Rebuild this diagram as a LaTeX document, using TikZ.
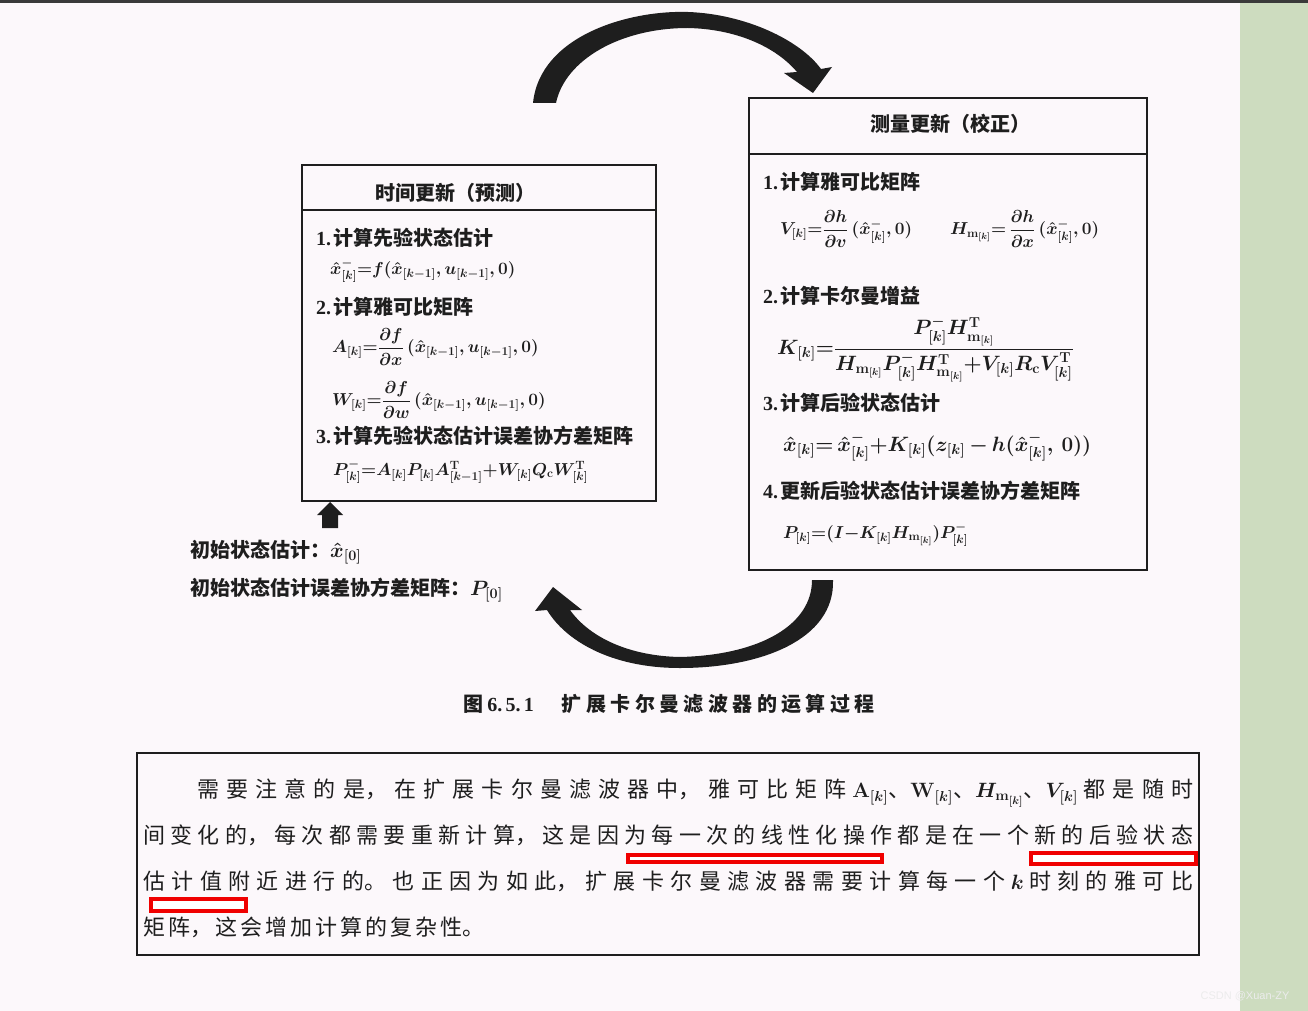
\documentclass[tikz,border=0pt]{standalone}
\usepackage{amsmath,bm}
\usepackage[no-math]{fontspec}
\setmainfont{Noto Sans CJK SC}
\newfontfamily\numfont{Liberation Serif}
\newfontfamily\capfont[LetterSpace=22]{Noto Sans CJK SC}
\newfontfamily\markfont{Liberation Sans}

\definecolor{pagec}{HTML}{FCF8FB}
\definecolor{greenc}{HTML}{CDDCBF}
\definecolor{barc}{HTML}{3A3A3A}
\definecolor{inkc}{HTML}{1E1E1E}
\definecolor{redc}{HTML}{F00000}

\newcommand\itemno[1]{{\numfont\bfseries #1.}\hspace{2pt}}

\tikzset{
  boxline/.style={draw=inkc, line width=1.5pt},
  head/.style={font=\fontsize{20}{24}\selectfont\bfseries, text=inkc, inner sep=0pt},
  step item/.style={anchor=west, font=\fontsize{20}{24}\selectfont\bfseries, text=inkc, inner sep=0pt},
  formula/.style={anchor=west, font=\fontsize{18}{22}\selectfont\boldmath, text=inkc, inner sep=0pt},
  rformula/.style={formula, font=\fontsize{19.5}{23}\selectfont\boldmath},
  blockarrow/.style={fill=inkc, draw=none},
  redbox/.style={draw=redc, line width=3.5pt, fill=white}
}

\begin{document}
\begin{tikzpicture}[x=1pt,y=-1pt]
  \useasboundingbox (0,0) rectangle (1308,1011);
  % page
  \fill[pagec] (0,0) rectangle (1308,1011);
  \fill[greenc] (1240,0) rectangle (1308,1011);
  \fill[barc] (0,0) rectangle (1308,3.5);

  % time update box
  \draw[boxline] (302,165) rectangle (656,501);
  \draw[boxline] (302,210) -- (656,210);
  \node[head] (hdtime) at (455,193) {时间更新（预测）};
  \node[step item] (t1) at (316,238) {\itemno{1}计算先验状态估计};
  \node[formula] (fx) at (330,271) {$\hat{x}^{-}_{[k]}{=}f(\hat{x}_{[k-1]},u_{[k-1]},0)$};
  \node[step item] (t2) at (316,307) {\itemno{2}计算雅可比矩阵};
  \node[formula] (fa) at (332,347) {$A_{[k]}{=}\dfrac{\partial f}{\partial x}\,(\hat{x}_{[k-1]},u_{[k-1]},0)$};
  \node[formula] (fw) at (332,400) {$W_{[k]}{=}\dfrac{\partial f}{\partial w}\,(\hat{x}_{[k-1]},u_{[k-1]},0)$};
  \node[step item] (t3) at (316,436) {\itemno{3}计算先验状态估计误差协方差矩阵};
  \node[formula] (fp) at (333,472) {$P^{-}_{[k]}{=}A_{[k]}P_{[k]}A^{\mathrm{T}}_{[k-1]}{+}W_{[k]}Q_{\mathrm{c}}W^{\mathrm{T}}_{[k]}$};

  % measurement update box
  \draw[boxline] (749,98) rectangle (1147,570);
  \draw[boxline] (749,154) -- (1147,154);
  \node[head] (hdmeas) at (950,124) {测量更新（校正）};
  \node[step item] (m1) at (763,182) {\itemno{1}计算雅可比矩阵};
  \node[formula, font=\fontsize{18.5}{22}\selectfont\boldmath] (fv) at (780,229) {$V_{[k]}{=}\dfrac{\partial h}{\partial v}\,(\hat{x}^{-}_{[k]},0)$};
  \node[formula, font=\fontsize{18.5}{22}\selectfont\boldmath] (fh) at (950,229) {$H_{\mathrm{m}_{[k]}}{=}\,\dfrac{\partial h}{\partial x}\,(\hat{x}^{-}_{[k]},0)$};
  \node[step item] (m2) at (763,296) {\itemno{2}计算卡尔曼增益};
  \node[rformula] (fk) at (777,349) {$K_{[k]}{=}\dfrac{P^{-}_{[k]}H^{\mathrm{T}}_{\mathrm{m}_{[k]}}}{H_{\mathrm{m}_{[k]}}P^{-}_{[k]}H^{\mathrm{T}}_{\mathrm{m}_{[k]}}{+}V_{[k]}R_{\mathrm{c}}V^{\mathrm{T}}_{[k]}}$};
  \node[step item] (m3) at (763,403) {\itemno{3}计算后验状态估计};
  \node[rformula] (fxk) at (783,447) {$\hat{x}_{[k]}{=}\,\hat{x}^{-}_{[k]}{+}K_{[k]}(z_{[k]}\,{-}\,h(\hat{x}^{-}_{[k]},\,0))$};
  \node[step item] (m4) at (763,491) {\itemno{4}更新后验状态估计误差协方差矩阵};
  \node[formula] (fpk) at (783,535) {$P_{[k]}{=}(I{-}K_{[k]}H_{\mathrm{m}_{[k]}})P^{-}_{[k]}$};

  % initial values
  \fill[blockarrow] (322,528) -- (322,515) -- (317,515) -- (330,502)
    -- (343,515) -- (338,515) -- (338,528) -- cycle;
  \node[step item, font=\fontsize{20}{24}\selectfont\bfseries\boldmath] (init1) at (190,552) {初始状态估计：$\hat{x}_{[0]}$};
  \node[step item, font=\fontsize{20}{24}\selectfont\bfseries\boldmath] (init2) at (190,590) {初始状态估计误差协方差矩阵：$P_{[0]}$};

  % loop arrows
  \fill[blockarrow] (533,103) .. controls (540,35) and (630,10) .. (688,12)
    .. controls (745,14) and (800,40) .. (821,69) -- (832,67) -- (813,93)
    -- (784,73) -- (797,72) .. controls (775,46) and (735,29) .. (688,28)
    .. controls (620,28) and (565,60) .. (556,103) -- cycle;
  \fill[blockarrow] (833,580) .. controls (835,640) and (760,668) .. (680,668)
    .. controls (610,668) and (565,640) .. (547,610) -- (535,611) -- (553,587)
    -- (582,610) -- (570,610) .. controls (590,638) and (630,656) .. (680,657)
    .. controls (760,655) and (812,625) .. (812,580) -- cycle;

  % caption
  \node[font=\fontsize{20}{24}\selectfont\bfseries, text=inkc] (cap) at (669,704)
    {\capfont\bfseries 图\hspace{4pt}{\numfont\bfseries 6.\,5.\,1}\hspace{28pt}扩展卡尔曼滤波器的运算过程};

  % note box
  \draw[line width=1.5pt, draw=inkc] (137,753) rectangle (1199,955);
  \node[anchor=north west, inner sep=0pt, text width=1050pt, align=justify, text=inkc,
    font=\fontsize{22}{46}\selectfont\boldmath] (note) at (143,779) {%
    \XeTeXlinebreaklocale "zh"\XeTeXlinebreakskip=3pt plus 20pt minus 1pt\tolerance=10000
    \hspace*{54pt}需要注意的是，在扩展卡尔曼滤波器中，雅可比矩阵 $\mathbf{A}_{[k]}$、$\mathbf{W}_{[k]}$、$\bm{H}_{\mathrm{m}_{[k]}}$、$\bm{V}_{[k]}$ 都是随时\linebreak
    间变化的，每次都需要重新计算，这是因为每一次的线性化操作都是在一个新的后验状态\linebreak
    估计值附近进行的。也正因为如此，扩展卡尔曼滤波器需要计算每一个 $\bm{k}$ 时刻的雅可比\linebreak
    矩阵，这会增加计算的复杂性。};
  \draw[redbox] (628,855) rectangle (882,862);
  \draw[redbox] (1031,853) rectangle (1196,864);
  \draw[redbox] (151,899) rectangle (246,911);

  \node[font=\markfont\fontsize{11}{13}\selectfont, text=white!85!gray] (wm) at (1245,996) {CSDN @Xuan-ZY};
\end{tikzpicture}
\end{document}
